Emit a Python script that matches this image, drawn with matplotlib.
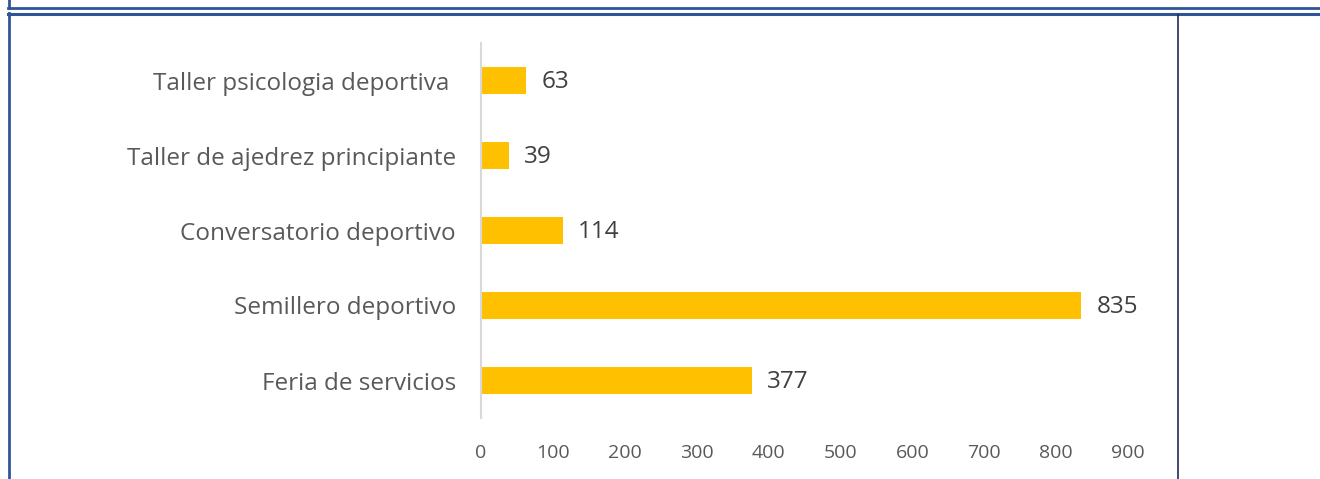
import matplotlib
matplotlib.use("Agg")
import matplotlib.pyplot as plt
from matplotlib.lines import Line2D

categories = ["Feria de servicios", "Semillero deportivo", "Conversatorio deportivo",
              "Taller de ajedrez principiante", "Taller psicologia deportiva "]
values = [377, 835, 114, 39, 63]
xticks = [0, 100, 200, 300, 400, 500, 600, 700, 800, 900]

W, H = 1320, 479
fig = plt.figure(figsize=(W / 100, H / 100), dpi=100)
plt.rcParams['font.family'] = ['Open Sans', 'DejaVu Sans']

ax = fig.add_axes([481 / W, 1 - 418 / H, (1128 - 481) / W, (418 - 43) / H])
y = list(range(len(categories)))
ax.barh(y, values, height=0.35, color="#FFC000")
ax.set_xlim(0, 900)
ax.set_ylim(-0.5, 4.5)
ax.set_xticks(xticks)
ax.set_xticklabels([str(t) for t in xticks], fontsize=14, color="#595959")
ax.set_yticks(y)
ax.set_yticklabels(categories, fontsize=17.5, color="#595959")
ax.tick_params(length=0)
ax.tick_params(axis="x", pad=18.5)
ax.tick_params(axis="y", pad=18)
for s in ["top", "right", "bottom"]:
    ax.spines[s].set_visible(False)
ax.spines["left"].set_color("#D9D9D9")
ax.spines["left"].set_linewidth(1.5)
for yi, v in zip(y, values):
    ax.annotate(str(v), (v, yi), xytext=(11, -1), textcoords="offset points",
                va="center", ha="left", fontsize=17.5, color="#404040")

blue = "#2F5597"
def hline(yp, x0, x1, c, lw):
    fig.add_artist(Line2D([x0 / W, x1 / W], [1 - yp / H, 1 - yp / H], color=c, lw=lw,
                          transform=fig.transFigure))
def vline(xp, y0, y1, c, lw):
    fig.add_artist(Line2D([xp / W, xp / W], [1 - y0 / H, 1 - y1 / H], color=c, lw=lw,
                          transform=fig.transFigure))

vline(9, 0, 7.5, blue, 2)
hline(7.5, 8, W, blue, 2)
hline(14, 8, W, blue, 2.2)
vline(9, 13, H, blue, 2)
vline(1177.5, 15, H, "#1F2A5A", 1.2)

fig.savefig("out.png", dpi=100)
